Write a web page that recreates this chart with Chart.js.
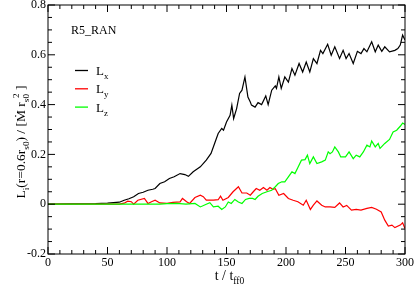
<!DOCTYPE html>
<html>
<head>
<meta charset="utf-8">
<script src="https://cdn.jsdelivr.net/npm/chart.js@4"></script>
<style>
html, body { margin: 0; padding: 0; background: #fff; }
#wrap { width: 415px; height: 287px; }
</style>
</head>
<body>
<div id="wrap"><canvas id="chart"></canvas></div>
<script>
// L_x (black)
const tX = [0, 40, 50, 55, 60, 64, 68, 72, 76, 80, 84, 88, 90, 94, 98, 102, 106, 111, 115, 118, 122, 125, 128, 133, 137, 140, 143, 146, 147.5, 150, 153, 154.5, 156, 158.5, 161, 163, 165.5, 168, 170, 171, 174, 176.5, 179.5, 183, 185, 188, 191, 192, 194, 196, 199, 202, 205, 207.5, 211, 214, 217, 220, 223, 226, 229, 231, 235, 238, 241, 245, 248, 250.5, 253, 256.5, 260, 263, 265.5, 268, 272, 275, 277.5, 280.5, 283, 287, 291.5, 294, 296, 298, 300];
const lX = [0, 0.002, 0.004, 0.006, 0.008, 0.016, 0.022, 0.03, 0.043, 0.048, 0.056, 0.06, 0.063, 0.083, 0.09, 0.103, 0.11, 0.123, 0.119, 0.112, 0.13, 0.14, 0.15, 0.177, 0.204, 0.244, 0.284, 0.304, 0.297, 0.33, 0.357, 0.398, 0.344, 0.384, 0.445, 0.458, 0.511, 0.43, 0.41, 0.398, 0.39, 0.408, 0.40, 0.435, 0.40, 0.458, 0.475, 0.465, 0.511, 0.465, 0.511, 0.49, 0.545, 0.518, 0.565, 0.531, 0.571, 0.531, 0.585, 0.565, 0.618, 0.605, 0.642, 0.598, 0.632, 0.585, 0.618, 0.585, 0.605, 0.565, 0.614, 0.605, 0.625, 0.612, 0.652, 0.612, 0.639, 0.614, 0.632, 0.612, 0.618, 0.625, 0.639, 0.679, 0.659];

// L_y (red)
const tY = [0, 60, 64, 67, 70, 72, 75.5, 81, 84, 87, 90, 94, 100, 105, 111, 113, 116.5, 119, 123.5, 128, 130.5, 133, 139, 143, 145, 147, 151.5, 155.5, 160, 163, 167, 170, 172.5, 175, 178, 181, 184, 186.5, 189, 191, 194, 198, 202, 206, 210, 214.5, 217, 220.5, 223, 226, 230, 233, 237, 241, 245, 248, 251, 255, 259, 263, 268, 272, 276, 280, 283, 286, 289, 291.5, 296, 298, 300];
const lY = [0, 0, 0.004, 0.012, 0.01, 0, 0.016, 0.023, 0.003, 0.01, 0.016, 0.005, 0.003, 0.007, 0.009, 0.023, 0.01, 0.003, 0.027, 0.036, 0.03, 0.016, 0.016, 0.018, 0.032, 0.016, 0.027, 0.05, 0.07, 0.045, 0.045, 0.036, 0.05, 0.063, 0.056, 0.067, 0.056, 0.067, 0.06, 0.062, 0.036, 0.043, 0.023, 0.016, 0.01, -0.004, 0.016, -0.021, -0.004, 0.013, -0.004, -0.011, -0.011, -0.013, 0.005, -0.011, -0.005, -0.024, -0.021, -0.024, -0.017, -0.013, -0.02, -0.031, -0.064, -0.088, -0.084, -0.094, -0.084, -0.075, -0.098];

// L_z (green)
const tZ = [0, 94, 100, 108, 116, 123.5, 128, 133, 136, 139, 143, 146, 149, 151.5, 154, 157, 160, 163, 166, 169, 172, 174, 176.5, 180, 184, 188, 191, 193.5, 196.5, 199, 202, 205, 207.5, 210, 213, 216, 218, 220, 223, 226, 230, 233, 235.5, 237, 239, 241, 244, 246, 250, 253, 256.5, 259, 262, 265, 268, 270.5, 272, 275, 277.5, 279, 283, 287, 290, 293, 296, 298, 300];
const lZ = [0, 0, 0.002, 0.003, 0, 0.003, -0.011, 0, 0.006, -0.011, -0.008, -0.021, -0.011, 0.009, 0.003, 0.019, 0.009, 0.003, 0.019, 0.023, 0.023, 0.019, 0.032, 0.043, 0.05, 0.056, 0.07, 0.083, 0.09, 0.09, 0.11, 0.13, 0.123, 0.147, 0.177, 0.179, 0.197, 0.163, 0.19, 0.163, 0.17, 0.177, 0.21, 0.203, 0.21, 0.23, 0.21, 0.19, 0.19, 0.21, 0.183, 0.197, 0.19, 0.21, 0.237, 0.23, 0.254, 0.23, 0.244, 0.224, 0.244, 0.26, 0.29, 0.297, 0.313, 0.326, 0.32];

const xTicks = [0, 50, 100, 150, 200, 250, 300];
const yTicks = [-0.2, 0, 0.2, 0.4, 0.6, 0.8];
const seriesNames = ['x', 'y', 'z'];
const seriesColors = ['#000000', '#ff0000', '#00ff00'];
const runLabel = 'R5_RAN';

const serif = '"Liberation Serif", "DejaVu Serif", serif';
const pts = (ts, vs) => ts.map((t, i) => ({ x: t, y: vs[i] }));

// draws a run of [text, kind] pieces; kind 0 normal, 1 subscript, 2 superscript
function drawRich(ctx, parts, x, y, size) {
    let cx = x;
    parts.forEach(([txt, kind, back]) => {
        const s = kind ? size * 0.68 : size;
        ctx.font = s + 'px ' + serif;
        const dy = kind === 1 ? size * 0.3 : kind === 2 ? -size * 0.45 : 0;
        if (back) cx -= back;
        ctx.fillText(txt, cx, y + dy);
        cx += ctx.measureText(txt).width;
    });
    return cx - x;
}
function richWidth(ctx, parts, size) {
    let w = 0;
    parts.forEach(([txt, kind, back]) => {
        ctx.font = (kind ? size * 0.68 : size) + 'px ' + serif;
        w += ctx.measureText(txt).width - (back || 0);
    });
    return w;
}

const decor = {
    id: 'decor',
    afterDraw(chart) {
        const { ctx, chartArea: a, scales: { x, y } } = chart;
        ctx.save();
        ctx.strokeStyle = '#000';
        ctx.lineWidth = 1;
        ctx.strokeRect(a.left, a.top, a.right - a.left, a.bottom - a.top);
        ctx.beginPath();
        for (let v = 0; v <= 300; v += 10) {
            const px = x.getPixelForValue(v);
            const len = v % 50 === 0 ? 7 : 4;
            ctx.moveTo(px, a.bottom); ctx.lineTo(px, a.bottom - len);
            ctx.moveTo(px, a.top); ctx.lineTo(px, a.top + len);
        }
        for (let i = -4; i <= 16; i++) {
            const py = y.getPixelForValue(i * 0.05);
            const len = i % 4 === 0 ? 7 : 4;
            ctx.moveTo(a.left, py); ctx.lineTo(a.left + len, py);
            ctx.moveTo(a.right, py); ctx.lineTo(a.right - len, py);
        }
        ctx.stroke();

        ctx.fillStyle = '#000';
        ctx.textBaseline = 'alphabetic';
        ctx.textAlign = 'left';

        // run label
        ctx.font = '12px ' + serif;
        ctx.fillText(runLabel, 71, 34);

        // legend
        seriesNames.forEach((n, i) => {
            const ly = 70.5 + i * 18.3;
            ctx.strokeStyle = seriesColors[i];
            ctx.lineWidth = 1.3;
            ctx.beginPath();
            ctx.moveTo(75, ly); ctx.lineTo(88, ly);
            ctx.stroke();
            drawRich(ctx, [['L', 0], [n, 1]], 96, ly + 4.5, 13);
        });

        // x title
        const xt = [['t / t', 0], ['ff0', 1]];
        const xw = richWidth(ctx, xt, 14);
        drawRich(ctx, xt, (a.left + a.right) / 2 - xw / 2 + 3, 280, 14);

        // y title
        const yt = [['L', 0], ['i', 1], ['(r=0.6r', 0], ['s0', 1], [') / [\u1E40 r', 0], ['s0', 1], ['2', 2, 4], [' ]', 0]];
        ctx.save();
        ctx.translate(25, 142);
        ctx.rotate(-Math.PI / 2);
        const yw = richWidth(ctx, yt, 13.5);
        drawRich(ctx, yt, -yw / 2, 0, 13.5);
        ctx.restore();
        ctx.restore();
    }
};

const noPad = s => { s.paddingTop = 0; s.paddingBottom = 0; s.paddingLeft = 0; s.paddingRight = 0; };

new Chart(document.getElementById('chart'), {
    type: 'line',
    data: {
        datasets: [
            { data: pts(tX, lX), borderColor: seriesColors[0], order: 2 },
            { data: pts(tY, lY), borderColor: seriesColors[1], order: 1 },
            { data: pts(tZ, lZ), borderColor: seriesColors[2], order: 0 }
        ].map(d => Object.assign(d, { borderWidth: 1.2, pointRadius: 0, tension: 0, fill: false }))
    },
    options: {
        responsive: true,
        maintainAspectRatio: false,
        animation: false,
        devicePixelRatio: 1,
        layout: { padding: { top: 5, right: 10, left: 0, bottom: 0 } },
        plugins: { legend: { display: false }, tooltip: { enabled: false } },
        scales: {
            x: {
                type: 'linear', min: 0, max: 300,
                afterBuildTicks: s => { s.ticks = xTicks.map(v => ({ value: v })); },
                afterFit: s => { s.height = 33; noPad(s); },
                grid: { display: false, drawTicks: false },
                border: { display: false },
                ticks: { color: '#000', font: { family: serif, size: 12 }, padding: 2, maxRotation: 0 }
            },
            y: {
                type: 'linear', min: -0.2, max: 0.8,
                afterBuildTicks: s => { s.ticks = yTicks.map(v => ({ value: v })); },
                afterFit: s => { s.width = 48; noPad(s); },
                grid: { display: false, drawTicks: false },
                border: { display: false },
                ticks: {
                    color: '#000', font: { family: serif, size: 12 }, padding: 2,
                    callback: v => String(+v.toFixed(1))
                }
            }
        }
    },
    plugins: [decor]
});
</script>
</body>
</html>
